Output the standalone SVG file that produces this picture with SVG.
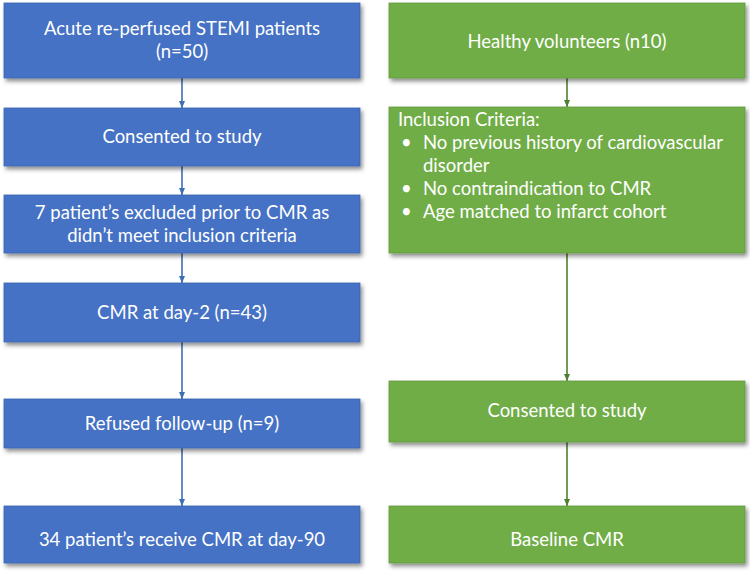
<svg xmlns="http://www.w3.org/2000/svg" width="750" height="578" viewBox="0 0 750 578">
<style>
.b{fill:#4472C4;stroke:#3A64B0;stroke-width:0.8}
.g{fill:#70AD47;stroke:#639A3E;stroke-width:0.8}
text{font-family:Lato,"Open Sans","Liberation Sans",sans-serif;font-size:18.5px;fill:#FFFFFF}
.c{text-anchor:middle}
.cb{stroke:#3D6FB0;stroke-width:1.6;fill:none;marker-end:url(#ab)}
.cg{stroke:#4F7F30;stroke-width:1.6;fill:none;marker-end:url(#ag)}
</style>
<defs>
<filter id="sh" x="-5%" y="-10%" width="112%" height="130%">
<feDropShadow dx="2" dy="3" stdDeviation="2" flood-color="#000" flood-opacity="0.45"/>
</filter>
<marker id="ab" markerWidth="8" markerHeight="8" refX="7" refY="4" orient="auto" markerUnits="userSpaceOnUse">
<path d="M0,1 L7,4 L0,7 z" fill="#3D6FB0"/>
</marker>
<marker id="ag" markerWidth="8" markerHeight="8" refX="7" refY="4" orient="auto" markerUnits="userSpaceOnUse">
<path d="M0,1 L7,4 L0,7 z" fill="#4F7F30"/>
</marker>
</defs>
<g id="connectors">
<line class="cb" x1="182" y1="78" x2="182" y2="108"/>
<line class="cb" x1="182" y1="166" x2="182" y2="195"/>
<line class="cb" x1="182" y1="253" x2="182" y2="283"/>
<line class="cb" x1="182" y1="342" x2="182" y2="399"/>
<line class="cb" x1="182" y1="448" x2="182" y2="506"/>
<line class="cg" x1="567" y1="78" x2="567" y2="107"/>
<line class="cg" x1="567" y1="253" x2="567" y2="381"/>
<line class="cg" x1="567" y1="442" x2="567" y2="506"/>
</g>
<g id="b1"><rect class="b" x="4" y="3" width="356" height="75" filter="url(#sh)"/>
<text class="c" x="182" y="35">Acute re-perfused STEMI patients</text>
<text class="c" x="182" y="58">(n=50)</text></g>
<g id="b2"><rect class="b" x="4" y="108" width="356" height="58" filter="url(#sh)"/>
<text class="c" x="182" y="143">Consented to study</text></g>
<g id="b3"><rect class="b" x="4" y="195" width="356" height="58" filter="url(#sh)"/>
<text class="c" x="182" y="219">7 patient’s excluded prior to CMR as</text>
<text class="c" x="182" y="242">didn’t meet inclusion criteria</text></g>
<g id="b4"><rect class="b" x="4" y="283" width="356" height="59" filter="url(#sh)"/>
<text class="c" x="182" y="319">CMR at day-2 (n=43)</text></g>
<g id="b5"><rect class="b" x="4" y="399" width="356" height="49" filter="url(#sh)"/>
<text class="c" x="182" y="430">Refused follow-up (n=9)</text></g>
<g id="b6"><rect class="b" x="4" y="506" width="356" height="57" filter="url(#sh)"/>
<text class="c" x="182" y="546">34 patient’s receive CMR at day-90</text></g>
<g id="g1"><rect class="g" x="389" y="3" width="356" height="75" filter="url(#sh)"/>
<text class="c" x="567" y="48">Healthy volunteers (n10)</text></g>
<g id="g2"><rect class="g" x="389" y="107" width="356" height="146" filter="url(#sh)"/>
<text x="398" y="126">Inclusion Criteria:</text>
<text x="401" y="149">•</text><text x="423" y="149">No previous history of cardiovascular</text>
<text x="423" y="172">disorder</text>
<text x="401" y="195">•</text><text x="423" y="195">No contraindication to CMR</text>
<text x="401" y="218">•</text><text x="423" y="218">Age matched to infarct cohort</text></g>
<g id="g3"><rect class="g" x="389" y="381" width="356" height="61" filter="url(#sh)"/>
<text class="c" x="567" y="417">Consented to study</text></g>
<g id="g4"><rect class="g" x="389" y="506" width="356" height="57" filter="url(#sh)"/>
<text class="c" x="567" y="546">Baseline CMR</text></g>
</svg>
